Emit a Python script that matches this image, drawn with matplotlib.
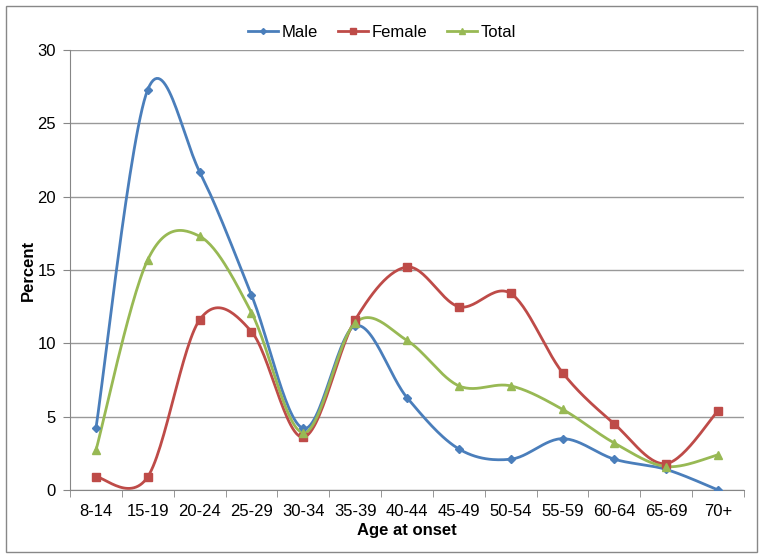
import numpy as np
import matplotlib.pyplot as plt
from matplotlib.patches import Rectangle

plt.rcParams['font.family'] = ['Liberation Sans', 'DejaVu Sans']

ages = ['8-14', '15-19', '20-24', '25-29', '30-34', '35-39', '40-44',
        '45-49', '50-54', '55-59', '60-64', '65-69', '70+']
male = [4.2, 27.3, 21.7, 13.3, 4.2, 11.2, 6.3, 2.8, 2.1, 3.5, 2.1, 1.4, 0.0]
female = [0.9, 0.9, 11.6, 10.8, 3.6, 11.6, 15.2, 12.5, 13.4, 8.0, 4.5, 1.8, 5.4]
total = [2.7, 15.7, 17.3, 12.1, 3.9, 11.4, 10.2, 7.1, 7.1, 5.5, 3.2, 1.6, 2.4]


def smooth(x, y, n=30):
    # Excel-style smoothed line: cubic Bezier with Catmull-Rom control points
    x = np.asarray(x, float)
    y = np.asarray(y, float)
    px = np.concatenate([[x[0]], x, [x[-1]]])
    py = np.concatenate([[y[0]], y, [y[-1]]])
    xs, ys = [], []
    t = np.linspace(0, 1, n)
    for i in range(len(x) - 1):
        p0 = np.array([px[i + 1], py[i + 1]])
        p3 = np.array([px[i + 2], py[i + 2]])
        c1 = p0 + (np.array([px[i + 2], py[i + 2]]) - np.array([px[i], py[i]])) / 6
        c2 = p3 - (np.array([px[i + 3], py[i + 3]]) - np.array([px[i + 1], py[i + 1]])) / 6
        b = ((1 - t) ** 3)[:, None] * p0 + (3 * (1 - t) ** 2 * t)[:, None] * c1 \
            + (3 * (1 - t) * t ** 2)[:, None] * c2 + (t ** 3)[:, None] * p3
        xs.extend(b[:, 0])
        ys.extend(b[:, 1])
    return xs, ys


fig = plt.figure(figsize=(7.64, 5.59), dpi=100)
ax = fig.add_axes([70 / 764, 1 - 490 / 559, 674 / 764, 440 / 559])

x = np.arange(len(ages))
series = [('Male', male, '#4A7EBB', 'D', 4),
          ('Female', female, '#BE4B48', 's', 6),
          ('Total', total, '#98B954', '^', 6)]
for name, vals, col, mk, ms in series:
    sx, sy = smooth(x, vals)
    ax.plot(sx, sy, color=col, lw=2, zorder=3)
    ax.plot(x, vals, ls='none', marker=mk, ms=ms, color=col, zorder=4)
    ax.plot([], [], color=col, lw=2, marker=mk, ms=ms - 1, label=name)

ax.set_xlim(-0.5, len(ages) - 0.5)
ax.set_ylim(0, 30)
ax.set_yticks(range(0, 31, 5))
ax.set_xticks(x)
ax.set_xticklabels(ages)
ax.set_xticks(np.arange(-0.5, len(ages), 1), minor=True)
ax.tick_params(axis='x', which='major', length=0, labelsize=12, pad=10)
ax.tick_params(axis='x', which='minor', length=5, color='#868686')
ax.tick_params(axis='y', length=5, color='#868686', labelsize=12, pad=5)
ax.grid(axis='y', color='#999999', lw=1)
ax.set_axisbelow(True)
for s in ['top', 'right']:
    ax.spines[s].set_visible(False)
ax.spines['left'].set_color('#868686')
ax.spines['bottom'].set_color('#868686')
ax.set_xlabel('Age at onset', fontsize=12, fontweight='bold', labelpad=3)
ax.set_ylabel('Percent', fontsize=12, fontweight='bold', labelpad=1)

fig.legend(loc='upper center', bbox_to_anchor=(0.5, 1 - 10 / 559), ncol=3,
           frameon=False, fontsize=12, handlelength=1.8, columnspacing=1.2,
           handletextpad=0.2)

fig.patches.append(Rectangle((6 / 764, 1 - 552 / 559), 751 / 764, 546 / 559,
                             transform=fig.transFigure, fill=False,
                             edgecolor='#888888', lw=1))

fig.savefig('out.png', dpi=100)
